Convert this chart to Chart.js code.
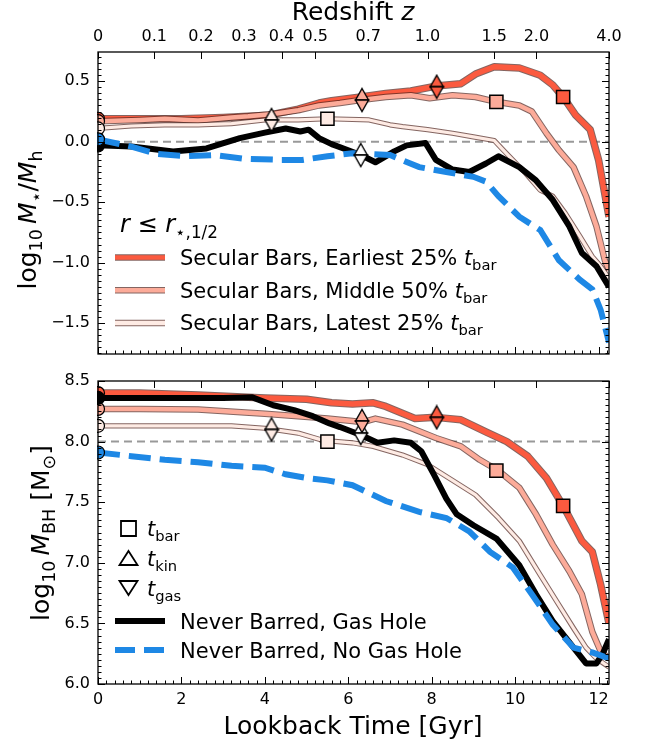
<!DOCTYPE html>
<html>
<head>
<meta charset="utf-8">
<script src="https://cdn.jsdelivr.net/npm/chart.js@4.4.1/dist/chart.umd.min.js"></script>
<style>
  html, body { margin: 0; padding: 0; background: #fff; }
  #wrap { position: relative; width: 648px; height: 744px; }
  #wrap canvas { position: absolute; left: 0; top: 0; }
</style>
</head>
<body>
<div id="wrap">
  <canvas id="topChart" width="648" height="744"></canvas>
  <canvas id="bottomChart" width="648" height="744"></canvas>
</div>
<script>
// ---- data (lookback time in Gyr) ----
const xMax = 12.25;
const zLabels = ['0', '0.1', '0.2', '0.3', '0.4', '0.5', '0.7', '1.0', '1.5', '2.0', '4.0'];
const zLookback = [0, 1.35, 2.47, 3.50, 4.40, 5.21, 6.48, 7.90, 9.50, 10.51, 12.25];

// top panel: log10 M*/Mh
const tEarlyTop = [0, 1, 2, 3, 3.6, 4.1, 4.8, 5.3, 5.6, 6.3, 6.9, 7.5, 8.1, 8.7, 9.05, 9.5, 10.1, 10.6, 10.9, 11.15, 11.45, 11.8, 12.0, 12.25];
const earlyTop = [0.19, 0.19, 0.19, 0.20, 0.21, 0.22, 0.27, 0.32, 0.34, 0.37, 0.40, 0.42, 0.46, 0.48, 0.56, 0.62, 0.61, 0.55, 0.47, 0.37, 0.22, 0.10, -0.15, -0.62];
const tMidTop = [0, 1, 1.6, 2.4, 3.2, 3.6, 4.2, 4.8, 5.3, 5.8, 6.3, 6.9, 7.5, 7.95, 8.5, 9.05, 9.55, 10.1, 10.4, 10.75, 11.05, 11.4, 11.7, 11.95, 12.15, 12.25];
const midTop = [0.17, 0.18, 0.19, 0.175, 0.20, 0.21, 0.23, 0.26, 0.30, 0.32, 0.345, 0.37, 0.385, 0.36, 0.385, 0.37, 0.33, 0.30, 0.25, 0.07, -0.07, -0.21, -0.45, -0.70, -0.98, -1.06];
const tLateTop = [0, 0.8, 1.6, 2.4, 3.2, 4.0, 4.8, 5.5, 6.5, 7.0, 7.3, 7.9, 8.5, 9.0, 9.5, 9.8, 10.25, 10.6, 10.9, 11.2, 11.55, 11.85, 12.05, 12.25];
const lateTop = [0.11, 0.13, 0.14, 0.14, 0.15, 0.18, 0.18, 0.19, 0.18, 0.14, 0.125, 0.10, 0.07, 0.04, 0.01, -0.10, -0.26, -0.40, -0.45, -0.59, -0.78, -0.95, -1.03, -1.13];
const tHoleTop = [0, 0.8, 1.8, 2.6, 3.4, 4.0, 4.5, 4.85, 5.05, 5.3, 5.6, 6.0, 6.3, 6.65, 7.1, 7.4, 7.85, 8.1, 8.5, 8.9, 9.3, 9.6, 10.1, 10.5, 10.9, 11.3, 11.6, 11.95, 12.25];
const holeTop = [-0.03, -0.04, -0.08, -0.055, 0.03, 0.075, 0.11, 0.085, 0.10, 0.03, -0.02, -0.07, -0.11, -0.17, -0.08, -0.03, -0.01, -0.15, -0.23, -0.25, -0.18, -0.12, -0.21, -0.32, -0.48, -0.70, -0.92, -1.03, -1.20];
const tNoHoleTop = [0, 0.8, 1.4, 2.1, 2.8, 3.5, 4.4, 4.9, 5.5, 6.1, 7.0, 7.7, 8.35, 9.0, 9.3, 9.6, 10.1, 10.6, 11.05, 11.55, 11.85, 12.05, 12.25];
const noHoleTop = [0.02, -0.04, -0.10, -0.12, -0.11, -0.14, -0.15, -0.15, -0.12, -0.095, -0.11, -0.21, -0.25, -0.29, -0.33, -0.45, -0.62, -0.73, -0.98, -1.14, -1.22, -1.39, -1.66];

// bottom panel: log10 M_BH
const tEarlyBot = [0, 1, 2.4, 4.0, 5.0, 5.6, 6.1, 6.6, 6.9, 7.6, 8.1, 8.7, 9.3, 9.8, 10.3, 10.75, 11.15, 11.6, 11.85, 12.05, 12.25];
const earlyBot = [8.40, 8.40, 8.385, 8.36, 8.35, 8.32, 8.31, 8.32, 8.29, 8.19, 8.20, 8.18, 8.08, 8.00, 7.88, 7.70, 7.47, 7.18, 7.09, 6.82, 6.50];
const tMidBot = [0, 1, 2.4, 4.0, 4.8, 5.5, 6.1, 6.35, 6.65, 7.3, 8.1, 8.7, 9.15, 9.6, 10.1, 10.5, 10.9, 11.3, 11.6, 11.85, 12.05, 12.25];
const midBot = [8.27, 8.27, 8.265, 8.23, 8.21, 8.19, 8.17, 8.16, 8.19, 8.14, 8.03, 7.96, 7.85, 7.76, 7.62, 7.40, 7.15, 6.93, 6.74, 6.43, 6.27, 6.21];
const tLateBot = [0, 1, 2, 3.2, 4.0, 4.8, 5.4, 6.1, 6.6, 7.3, 7.9, 8.5, 9.05, 9.6, 10.1, 10.6, 11.0, 11.4, 11.7, 11.95, 12.25];
const lateBot = [8.13, 8.13, 8.13, 8.13, 8.11, 8.07, 8.01, 7.99, 7.96, 7.89, 7.81, 7.68, 7.56, 7.37, 7.18, 6.90, 6.68, 6.46, 6.30, 6.21, 6.14];
const tHoleBot = [0, 1, 2, 3, 3.7, 4.2, 4.7, 5.15, 5.55, 5.8, 6.3, 6.7, 7.1, 7.5, 7.75, 8.05, 8.35, 8.6, 9.0, 9.55, 10.1, 10.5, 10.9, 11.4, 11.7, 11.95, 12.1, 12.25];
const holeBot = [8.36, 8.36, 8.36, 8.36, 8.365, 8.30, 8.26, 8.21, 8.15, 8.12, 8.055, 7.99, 8.01, 7.99, 7.92, 7.73, 7.53, 7.40, 7.31, 7.20, 6.98, 6.74, 6.52, 6.30, 6.17, 6.17, 6.25, 6.37];
const tNoHoleBot = [0, 0.8, 1.6, 2.4, 3.2, 4.0, 4.5, 5.0, 5.5, 6.1, 6.9, 7.7, 8.35, 8.9, 9.4, 9.95, 10.4, 10.9, 11.4, 11.85, 12.25];
const noHoleBot = [7.91, 7.88, 7.85, 7.83, 7.80, 7.785, 7.73, 7.70, 7.68, 7.64, 7.51, 7.42, 7.37, 7.26, 7.09, 6.96, 6.74, 6.49, 6.30, 6.26, 6.21];

// markers: t_bar (earliest, middle, latest)
const tBar = [11.15, 9.55, 5.5];
const barTop = [0.37, 0.33, 0.19];
const barBot = [7.47, 7.76, 8.00];
// t_kin / t_gas (earliest, middle, latest, never barred gas hole)
const tKin = [8.12, 6.33, 4.16, 6.3];
const kinTop = [0.455, 0.345, 0.18, -0.11];
const kinBot = [8.20, 8.17, 8.10, 8.07];
const tGas = [8.12, 6.33, 4.16, 6.3];
const gasTop = [0.455, 0.345, 0.18, -0.11];
const gasBot = [8.20, 8.17, 8.10, 8.07];
// z = 0 values (earliest, middle, latest, gas hole, no gas hole)
const startTop = [0.19, 0.17, 0.11, -0.03, 0.02];
const startBot = [8.40, 8.27, 8.13, 8.36, 7.91];
const refTop = 0.0;
const refBot = 8.0;

// ---- styling ----
const FONT = '"DejaVu Sans", sans-serif';
const cEarly = '#fb5a3f', cMid = '#fcab99', cLate = '#feebe4';
const cHole = '#000000', cNoHole = '#1e88e5';
const edge = 'rgba(80,35,30,0.7)';

Chart.defaults.font.family = FONT;
Chart.defaults.color = '#000';

const xy = (ts, vs) => ts.map((t, i) => ({ x: t, y: vs[i] }));

function triangleMarker(fill, up) {
  const c = document.createElement('canvas');
  c.width = 16; c.height = 26;
  const g = c.getContext('2d');
  g.beginPath();
  if (up) { g.moveTo(8, 1.5); g.lineTo(14.5, 13); g.lineTo(1.5, 13); }
  else { g.moveTo(8, 24.5); g.lineTo(14.5, 13); g.lineTo(1.5, 13); }
  g.closePath();
  g.fillStyle = fill; g.fill();
  g.lineWidth = 1.4; g.strokeStyle = '#000'; g.stroke();
  return c;
}

function lineSets(ts, vs, color, w, order) {
  const base = { pointRadius: 0, tension: 0, fill: false, borderJoinStyle: 'round' };
  return [
    Object.assign({ data: xy(ts, vs), borderColor: edge, borderWidth: w + 2, order: order + 1 }, base),
    Object.assign({ data: xy(ts, vs), borderColor: color, borderWidth: w, order: order }, base)
  ];
}

function panelDatasets(p) {
  const kinColors = [cEarly, cMid, cLate, '#ffffff'];
  return [
    { data: [{ x: 0, y: p.ref }, { x: xMax, y: p.ref }], borderColor: '#999', borderWidth: 2,
      borderDash: [8, 5], pointRadius: 0, order: 40 },
    ...lineSets(p.tE, p.e, cEarly, 5.5, 30),
    ...lineSets(p.tM, p.m, cMid, 4.5, 28),
    ...lineSets(p.tL, p.l, cLate, 3.2, 26),
    { data: xy(p.tH, p.h), borderColor: cHole, borderWidth: 6, pointRadius: 0, tension: 0,
      borderJoinStyle: 'round', order: 20 },
    { data: xy(p.tN, p.n), borderColor: cNoHole, borderWidth: 6, borderDash: [22, 9],
      pointRadius: 0, tension: 0, order: 18 },
    { data: p.start.map(v => ({ x: 0, y: v })), showLine: false, pointStyle: 'circle', pointRadius: 6.5,
      pointBackgroundColor: [cEarly, cMid, cLate, cHole, cNoHole], pointBorderColor: '#000',
      pointBorderWidth: 1.2, borderWidth: 0, clip: 1, order: 5 },
    { data: xy(tBar, p.bar), showLine: false, pointStyle: 'rect', pointRadius: 9.3,
      pointBackgroundColor: [cEarly, cMid, cLate], pointBorderColor: '#000', pointBorderWidth: 1.5,
      clip: false, order: 4 },
    { data: xy(tKin, p.kin), showLine: false, pointRadius: 8,
      pointStyle: kinColors.map(c => triangleMarker(c, true)), clip: false, order: 3 },
    { data: xy(tGas, p.gas), showLine: false, pointRadius: 8,
      pointStyle: kinColors.map(c => triangleMarker(c, false)), clip: false, order: 2 }
  ];
}

// rich text: parts = [[text, kind]] kind: n normal, i italic, s subscript, si italic subscript
function drawRich(ctx, parts, x, y, size, align) {
  let w = 0;
  const items = parts.map(([t, k]) => {
    const sub = k[0] === 's';
    const ital = k.indexOf('i') >= 0;
    const fs = sub ? size * 0.7 : size;
    const font = (ital ? 'italic ' : '') + fs + 'px ' + FONT;
    ctx.font = font;
    const width = ctx.measureText(t).width;
    w += width;
    return { t, font, width, dy: sub ? size * 0.24 : 0 };
  });
  let cx = align === 'center' ? x - w / 2 : (align === 'right' ? x - w : x);
  ctx.textAlign = 'left';
  ctx.textBaseline = 'alphabetic';
  ctx.fillStyle = '#000';
  items.forEach(it => { ctx.font = it.font; ctx.fillText(it.t, cx, y + it.dy); cx += it.width; });
}

function drawFrame(chart) {
  const { ctx, chartArea: a } = chart;
  const xs = chart.scales.x, ys = chart.scales.y;
  ctx.save();
  ctx.strokeStyle = '#000';
  ctx.lineWidth = 1;
  ctx.beginPath();
  for (let k = 0; k * 0.2 <= xs.max + 1e-9; k++) {
    const px = Math.round(xs.getPixelForValue(k * 0.2)) + 0.5;
    const len = k % 10 === 0 ? 7 : 3.5;
    ctx.moveTo(px, a.bottom); ctx.lineTo(px, a.bottom - len);
  }
  zLookback.forEach(v => {
    const px = Math.round(xs.getPixelForValue(v)) + 0.5;
    ctx.moveTo(px, a.top); ctx.lineTo(px, a.top + 7);
  });
  for (let k = Math.ceil(ys.min / 0.05); k * 0.05 <= ys.max + 1e-9; k++) {
    const py = Math.round(ys.getPixelForValue(k * 0.05)) + 0.5;
    const len = k % 10 === 0 ? 7 : 3.5;
    ctx.moveTo(a.left, py); ctx.lineTo(a.left + len, py);
    ctx.moveTo(a.right, py); ctx.lineTo(a.right - len, py);
  }
  ctx.stroke();
  ctx.lineWidth = 1.3;
  ctx.strokeRect(a.left, a.top, a.right - a.left, a.bottom - a.top);
  ctx.restore();
}

function yTitle(ctx, parts, x, y) {
  ctx.save();
  ctx.translate(x, y);
  ctx.rotate(-Math.PI / 2);
  drawRich(ctx, parts, 0, 0, 25, 'center');
  ctx.restore();
}

function legendLine(ctx, y, color, w, dash) {
  ctx.save();
  ctx.lineCap = 'butt';
  if (color !== cHole && color !== cNoHole) {
    ctx.strokeStyle = edge; ctx.lineWidth = 6.5;
    ctx.beginPath(); ctx.moveTo(115, y); ctx.lineTo(165, y); ctx.stroke();
  }
  ctx.strokeStyle = color; ctx.lineWidth = w;
  if (dash) ctx.setLineDash(dash);
  ctx.beginPath(); ctx.moveTo(115, y); ctx.lineTo(165, y); ctx.stroke();
  ctx.restore();
}

const topDecor = {
  id: 'topDecor',
  afterDatasetsDraw(chart) {
    drawFrame(chart);
    const ctx = chart.ctx;
    drawRich(ctx, [['Redshift ', 'n'], ['z', 'i']], 353, 20, 25, 'center');
    yTitle(ctx, [['log', 'n'], ['10', 's'], ['\u2009', 'n'], ['M', 'i'], ['\u22c6', 's'], ['/', 'n'], ['M', 'i'], ['h', 's']], 36, 220);
    drawRich(ctx, [['r', 'i'], [' \u2264 ', 'n'], ['r', 'i'], ['\u22c6,1/2', 's']], 120, 232, 24, 'left');
    const rows = [['Earliest 25% ', cEarly], ['Middle 50% ', cMid], ['Latest 25% ', cLate]];
    rows.forEach(([label, col], i) => {
      const y = 257.5 + i * 32.7;
      legendLine(ctx, y, col, 4.5);
      drawRich(ctx, [['Secular Bars, ' + label, 'n'], ['t', 'i'], ['bar', 's']], 180, y + 7.5, 21, 'left');
    });
  }
};

const bottomDecor = {
  id: 'bottomDecor',
  afterDatasetsDraw(chart) {
    drawFrame(chart);
    const ctx = chart.ctx;
    yTitle(ctx, [['log', 'n'], ['10', 's'], ['\u2009', 'n'], ['M', 'i'], ['BH', 's'], [' [M', 'n'], ['\u2299', 's'], [']', 'n']], 49, 533);
    drawRich(ctx, [['Lookback Time [Gyr]', 'n']], 353, 734, 25, 'center');
    // marker legend
    ctx.save();
    ctx.fillStyle = '#fff'; ctx.strokeStyle = '#000'; ctx.lineWidth = 1.8;
    ctx.beginPath(); ctx.rect(121, 521, 15, 15); ctx.fill(); ctx.stroke();
    ctx.beginPath(); ctx.moveTo(128.5, 551); ctx.lineTo(137.5, 565); ctx.lineTo(119.5, 565); ctx.closePath(); ctx.fill(); ctx.stroke();
    ctx.beginPath(); ctx.moveTo(128.5, 595); ctx.lineTo(137.5, 581); ctx.lineTo(119.5, 581); ctx.closePath(); ctx.fill(); ctx.stroke();
    ctx.restore();
    [['bar', 528], ['kin', 558], ['gas', 588]].forEach(([s, y]) => {
      drawRich(ctx, [['t', 'i'], [s, 's']], 147, y + 7.5, 21, 'left');
    });
    legendLine(ctx, 621, cHole, 6);
    drawRich(ctx, [['Never Barred, Gas Hole', 'n']], 180, 628.5, 21, 'left');
    legendLine(ctx, 650, cNoHole, 6, [20, 9]);
    drawRich(ctx, [['Never Barred, No Gas Hole', 'n']], 180, 657.5, 21, 'left');
  }
};

const fmtY = v => v.toFixed(1).replace('-', '\u2212');
const tickFont = { size: 16, family: FONT };

function makeChart(id, p, yMin, yMax, topH, bottomH, showX, showZ, plugin) {
  return new Chart(document.getElementById(id), {
    type: 'line',
    data: { datasets: panelDatasets(p) },
    options: {
      responsive: false,
      animation: false,
      events: [],
      layout: { padding: { left: 0, right: 39, top: 0, bottom: 0 } },
      plugins: { legend: { display: false }, tooltip: { enabled: false } },
      scales: {
        x: {
          type: 'linear', position: 'bottom', min: 0, max: xMax,
          grid: { display: false, drawTicks: false }, border: { display: false },
          ticks: { display: showX, stepSize: 2, includeBounds: false, autoSkip: false, maxRotation: 0,
                   padding: 6, font: tickFont, color: '#000' },
          afterFit: s => { s.height = bottomH; }
        },
        xz: {
          type: 'linear', position: 'top', min: 0, max: xMax,
          grid: { display: false, drawTicks: false }, border: { display: false },
          afterBuildTicks: s => { s.ticks = zLookback.map(v => ({ value: v })); },
          ticks: { display: showZ, autoSkip: false, maxRotation: 0, padding: 6, font: tickFont, color: '#000',
                   callback: (v, i) => zLabels[i] },
          afterFit: s => { s.height = topH; }
        },
        y: {
          type: 'linear', position: 'left', min: yMin, max: yMax,
          grid: { display: false, drawTicks: false }, border: { display: false },
          ticks: { stepSize: 0.5, includeBounds: false, padding: 8, font: tickFont, color: '#000', callback: fmtY },
          afterFit: s => { s.width = 98; }
        }
      }
    },
    plugins: [plugin]
  });
}

makeChart('topChart', {
  ref: refTop, tE: tEarlyTop, e: earlyTop, tM: tMidTop, m: midTop, tL: tLateTop, l: lateTop,
  tH: tHoleTop, h: holeTop, tN: tNoHoleTop, n: noHoleTop,
  start: startTop, bar: barTop, kin: kinTop, gas: gasTop
}, -1.755, 0.742, 52, 390, false, true, topDecor);

makeChart('bottomChart', {
  ref: refBot, tE: tEarlyBot, e: earlyBot, tM: tMidBot, m: midBot, tL: tLateBot, l: lateBot,
  tH: tHoleBot, h: holeBot, tN: tNoHoleBot, n: noHoleBot,
  start: startBot, bar: barBot, kin: kinBot, gas: gasBot
}, 6.0, 8.5, 381, 60, true, false, bottomDecor);
</script>
</body>
</html>
